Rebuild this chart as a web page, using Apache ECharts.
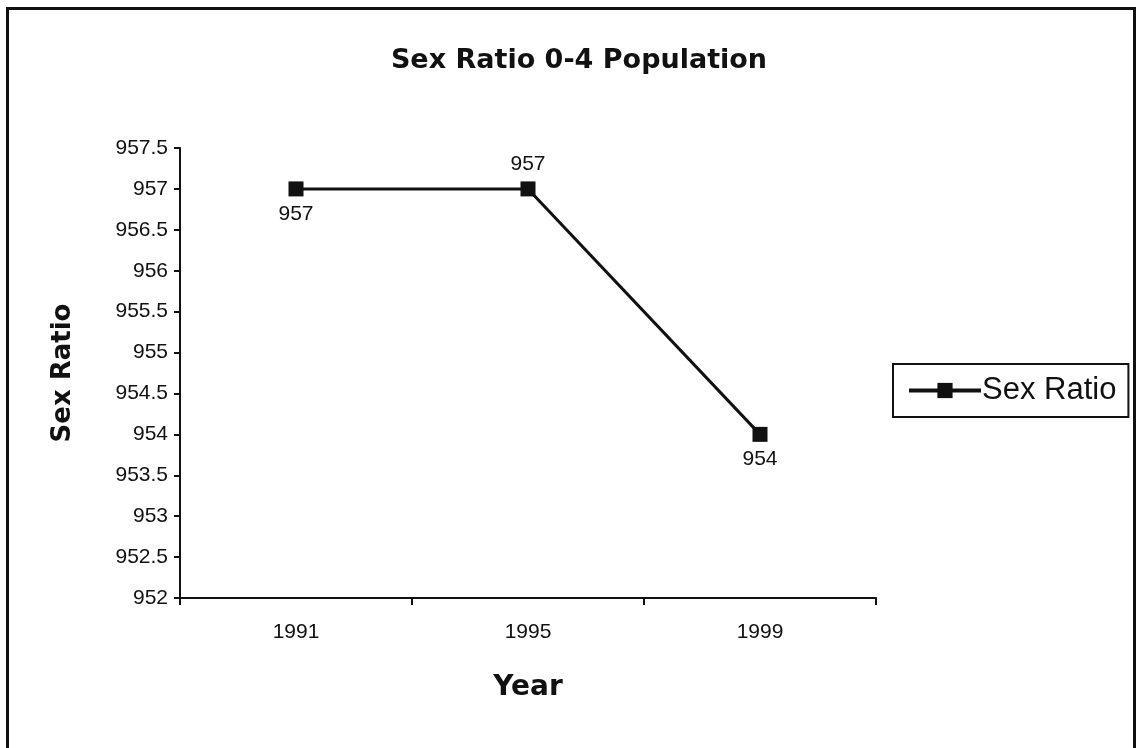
<!DOCTYPE html>
<html>
<head>
<meta charset="utf-8">
<script src="https://cdn.jsdelivr.net/npm/echarts@6/dist/echarts.min.js"></script>
<style>
  html, body { margin: 0; padding: 0; background: #fff; }
  #wrap { position: absolute; left: 6px; top: 7px; width: 1124px; height: 738px; border: 3px solid #111; border-bottom: none; }
  #chart { position: absolute; left: 0; top: 0; width: 1141px; height: 748px; }
</style>
</head>
<body>
<div id="wrap"></div>
<div id="chart"></div>
<script>
// 数据
const years = ['1991', '1995', '1999'];
const sexRatio = [957, 957, 954];
const yMin = 952;
const yMax = 957.5;
const yStep = 0.5;

const chart = echarts.init(document.getElementById('chart'));

const font = 'Liberation Sans, Arial, sans-serif';
const boldFont = 'DejaVu Sans, Liberation Sans, sans-serif';

chart.setOption({
  animation: false,
  title: {
    text: 'Sex Ratio 0-4 Population',
    left: 574,
    top: 42,
    textAlign: 'center',
    textStyle: { fontFamily: boldFont, fontSize: 27, fontWeight: 'bold', color: '#111' }
  },
  legend: {
    orient: 'vertical',
    left: 893,
    top: 364,
    padding: [11, 12, 11, 14],
    borderColor: '#111',
    borderWidth: 2,
    itemWidth: 72,
    itemHeight: 19,
    itemGap: 0,
    lineStyle: { width: 4 },
    textStyle: { fontFamily: font, fontSize: 31, color: '#111', padding: [0, 0, 0, -4] },
    data: ['Sex Ratio']
  },
  grid: { left: 180, right: 265, top: 148, bottom: 150 },
  xAxis: {
    type: 'category',
    data: years,
    boundaryGap: true,
    name: 'Year',
    nameLocation: 'middle',
    nameGap: 76,
    nameTextStyle: { fontFamily: boldFont, fontSize: 28, fontWeight: 'bold', color: '#111' },
    axisLine: { lineStyle: { color: '#111', width: 2 } },
    axisTick: { show: true, length: 7, lineStyle: { color: '#111', width: 2 } },
    axisLabel: { fontFamily: font, fontSize: 21, color: '#111', margin: 24 }
  },
  yAxis: {
    type: 'value',
    min: yMin,
    max: yMax,
    interval: yStep,
    name: 'Sex Ratio',
    nameLocation: 'middle',
    nameGap: 104,
    nameRotate: 90,
    nameTextStyle: { fontFamily: boldFont, fontSize: 26, fontWeight: 'bold', color: '#111' },
    axisLine: { show: true, lineStyle: { color: '#111', width: 2 } },
    axisTick: { show: true, length: 6, lineStyle: { color: '#111', width: 2 } },
    splitLine: { show: false },
    axisLabel: { fontFamily: font, fontSize: 21, color: '#111', margin: 12 }
  },
  series: [{
    name: 'Sex Ratio',
    type: 'line',
    data: sexRatio.map((v, i) => ({
      value: v,
      label: { position: i === 1 ? 'top' : 'bottom' }
    })),
    symbol: 'rect',
    symbolSize: 15,
    lineStyle: { color: '#111', width: 3 },
    itemStyle: { color: '#111' },
    label: {
      show: true,
      fontFamily: font,
      fontSize: 21,
      color: '#111',
      distance: 7
    }
  }]
});
</script>
</body>
</html>
